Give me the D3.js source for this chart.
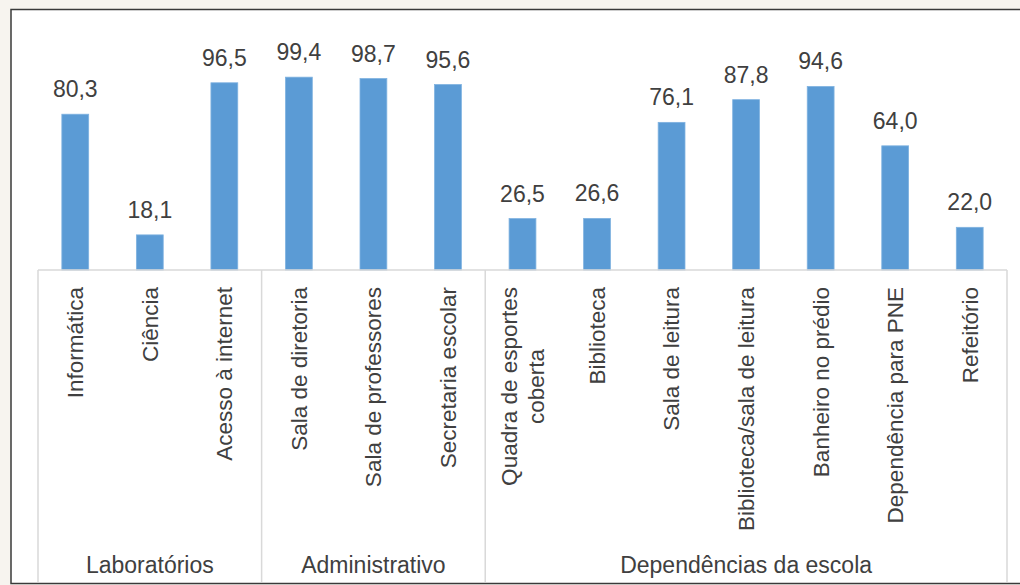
<!DOCTYPE html>
<html lang="pt">
<head>
  <meta charset="UTF-8">
  <title>Infraestrutura das escolas</title>
  <script src="https://d3js.org/d3.v7.min.js"></script>
  <style>
    body { margin: 0; background: #f7f4ef; }
    text { font-family: "Liberation Sans", Arial, sans-serif; fill: #404040; }
  </style>
</head>
<body>
  <script>
    // data
    const categories = [
      "Informática", "Ciência", "Acesso à internet",
      "Sala de diretoria", "Sala de professores", "Secretaria escolar",
      "Quadra de esportes coberta", "Biblioteca", "Sala de leitura",
      "Biblioteca/sala de leitura", "Banheiro no prédio", "Dependência para PNE", "Refeitório"
    ];
    const values = [80.3, 18.1, 96.5, 99.4, 98.7, 95.6, 26.5, 26.6, 76.1, 87.8, 94.6, 64.0, 22.0];
    const groups = ["Laboratórios", "Administrativo", "Dependências da escola"];
    const groupSizes = [3, 3, 7];
    // labels broken over two lines
    const labelLines = { "Quadra de esportes coberta": ["Quadra de esportes", "coberta"] };

    const width = 1020, height = 585;

    const svg = d3.select("body").append("svg")
      .attr("width", width)
      .attr("height", height);

    // background and white panel
    svg.append("rect")
      .attr("width", width).attr("height", height)
      .attr("fill", "#f7f4ef");

    svg.append("rect")
      .attr("x", 11).attr("y", 9.5)
      .attr("width", 1040).attr("height", 574)
      .attr("fill", "white")
      .attr("stroke", "#3a3a3a")
      .attr("stroke-width", 1.5);

    const left = 38, right = 1007, baseY = 270, topY = 76, bottomY = 582;

    const x = d3.scaleBand()
      .domain(categories)
      .range([left, right])
      .paddingInner(0.64)
      .paddingOuter(0.32);

    const y = d3.scaleLinear()
      .domain([0, 100])
      .range([baseY, topY]);

    const fmt = v => d3.format(".1f")(v).replace(".", ",");

    // bars
    svg.selectAll("rect.bar")
      .data(values)
      .enter().append("rect")
      .attr("class", "bar")
      .attr("x", (d, i) => x(categories[i]))
      .attr("y", d => y(d))
      .attr("width", x.bandwidth())
      .attr("height", d => y(0) - y(d))
      .attr("fill", "#5b9bd5")
      .attr("stroke", "#7fb2e0")
      .attr("stroke-width", 0.8);

    // value labels
    svg.selectAll("text.value")
      .data(values)
      .enter().append("text")
      .attr("class", "value")
      .attr("x", (d, i) => x(categories[i]) + x.bandwidth() / 2)
      .attr("y", d => y(d) - 17)
      .attr("text-anchor", "middle")
      .style("font-size", "23px")
      .text(d => fmt(d));

    // category axis frame
    const grid = "#d9d9d9";
    svg.append("line")
      .attr("x1", left).attr("x2", right)
      .attr("y1", baseY).attr("y2", baseY)
      .attr("stroke", grid).attr("stroke-width", 1.5);

    const step = x.step();
    let bounds = [0];
    groupSizes.forEach(n => bounds.push(bounds[bounds.length - 1] + n));

    svg.selectAll("line.div")
      .data(bounds)
      .enter().append("line")
      .attr("class", "div")
      .attr("x1", d => left + d * step).attr("x2", d => left + d * step)
      .attr("y1", baseY).attr("y2", bottomY)
      .attr("stroke", grid).attr("stroke-width", 1.5);

    // rotated category labels
    const catG = svg.selectAll("g.cat")
      .data(categories)
      .enter().append("g")
      .attr("class", "cat")
      .attr("transform", d => "translate(" + (x(d) + x.bandwidth() / 2) + "," + (baseY + 17) + ")rotate(-90)");

    catG.each(function (d) {
      const g = d3.select(this);
      const lines = labelLines[d] || [d];
      const lh = 27;
      if (lines.length === 1) {
        g.append("text")
          .attr("text-anchor", "end")
          .attr("dy", "0.35em")
          .style("font-size", "22.5px")
          .text(d);
      } else {
        const first = g.append("text")
          .attr("text-anchor", "end")
          .attr("y", -lh / 2)
          .attr("dy", "0.35em")
          .style("font-size", "22.5px")
          .text(lines[0]);
        const len = first.node().getComputedTextLength();
        g.append("text")
          .attr("text-anchor", "middle")
          .attr("x", -len / 2)
          .attr("y", lh / 2)
          .attr("dy", "0.35em")
          .style("font-size", "22.5px")
          .text(lines[1]);
      }
    });

    // group labels
    svg.selectAll("text.group")
      .data(groups)
      .enter().append("text")
      .attr("class", "group")
      .attr("x", (d, i) => left + (bounds[i] + bounds[i + 1]) / 2 * step)
      .attr("y", 573)
      .attr("text-anchor", "middle")
      .style("font-size", "23px")
      .text(d => d);
  </script>
</body>
</html>
